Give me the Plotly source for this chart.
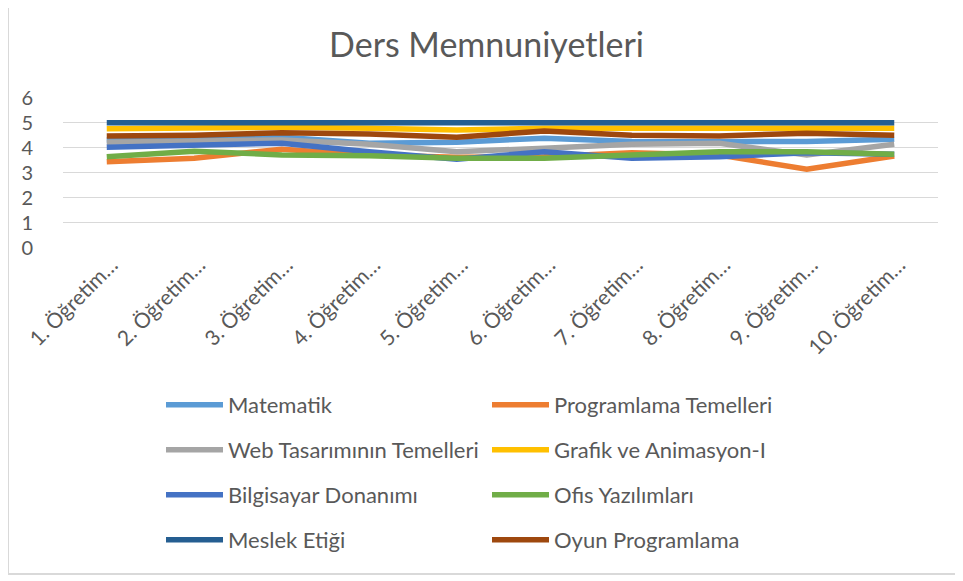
import plotly.graph_objects as go

W, H = 963, 581
OX, OY = 8, 8  # page offset of the figure (body margin)

categories = [f"{i}. Öğretim…" for i in range(1, 11)]

series_names = [
    "Matematik", "Programlama Temelleri", "Web Tasarımının Temelleri",
    "Grafik ve Animasyon-I", "Bilgisayar Donanımı", "Ofis Yazılımları",
    "Meslek Etiği", "Oyun Programlama",
]

matematik = [4.31, 4.34, 4.42, 4.18, 4.22, 4.38, 4.25, 4.24, 4.25, 4.34]
programlama = [3.44, 3.58, 3.94, 3.71, 3.62, 3.64, 3.80, 3.71, 3.14, 3.67]
web = [4.22, 4.26, 4.31, 4.14, 3.84, 3.98, 4.14, 4.18, 3.71, 4.14]
grafik = [4.76, 4.78, 4.82, 4.78, 4.71, 4.78, 4.78, 4.76, 4.78, 4.78]
donanim = [4.02, 4.11, 4.18, 3.84, 3.54, 3.84, 3.58, 3.64, 3.80, 3.74]
ofis = [3.64, 3.86, 3.71, 3.68, 3.58, 3.58, 3.71, 3.84, 3.84, 3.74]
meslek = [5.0, 5.0, 5.0, 5.0, 5.0, 5.0, 5.0, 5.0, 5.0, 5.0]
oyun = [4.47, 4.50, 4.60, 4.55, 4.42, 4.67, 4.50, 4.47, 4.58, 4.50]

values = [matematik, programlama, web, grafik, donanim, ofis, meslek, oyun]
colors = ["#5B9BD5", "#ED7D31", "#A5A5A5", "#FFC000",
          "#4472C4", "#70AD47", "#255E91", "#9E480E"]

y_ticks = [0, 1, 2, 3, 4, 5, 6]

FONT = "Lato"
TXT = "#595959"


def px(x):
    return (x - OX) / W


def py(y):
    return 1 - (y - OY) / H


fig = go.Figure()
legend_layouts = {}
col_x = [167, 493]
row_y = [405, 450, 495, 540]
for i, (name, vals, col) in enumerate(zip(series_names, values, colors)):
    lg = "legend" if i == 0 else f"legend{i + 1}"
    fig.add_trace(go.Scatter(
        x=categories, y=vals, name=name, mode="lines",
        line=dict(color=col, width=5.5),
        legend=lg,
    ))
    cx = col_x[i % 2]
    ry = row_y[i // 2]
    legend_layouts[lg] = dict(
        x=px(cx - 6), y=py(ry), xanchor="left", yanchor="middle",
        xref="container", yref="container",
        font=dict(family=FONT, size=22, color=TXT),
        bgcolor="rgba(0,0,0,0)", borderwidth=0, itemwidth=57,
    )

fig.update_layout(
    template="none",
    width=W, height=H,
    margin=dict(l=0, r=0, t=0, b=0, autoexpand=False),
    paper_bgcolor="white", plot_bgcolor="white",
    font=dict(family=FONT, color=TXT),
    title=dict(
        text="Ders Memnuniyetleri", x=px(486.5), y=py(45),
        xref="container", yref="container", xanchor="center", yanchor="middle",
        font=dict(family=FONT, size=34, color=TXT),
    ),
    xaxis=dict(
        domain=[px(63), px(938)], type="category", automargin=False,
        range=[-0.5, 9.5],
        showgrid=False, showline=False, zeroline=False, ticks="",
        tickangle=-45, ticklabelshift=5,
        tickfont=dict(family=FONT, size=21, color=TXT),
    ),
    yaxis=dict(
        domain=[py(247.7), py(97.7)], range=[0, 6], automargin=False,
        tickvals=y_ticks, showgrid=True, gridcolor="#D9D9D9", gridwidth=1.3,
        zeroline=False, showline=False, ticks="",
        ticklabelstandoff=29,
        tickfont=dict(family=FONT, size=20, color=TXT),
    ),
    showlegend=True,
    **legend_layouts,
    shapes=[
        dict(type="line", xref="paper", yref="paper",
             x0=0, x1=0, y0=py(574), y1=1,
             line=dict(color="#D9D9D9", width=2), layer="below"),
        dict(type="line", xref="paper", yref="paper",
             x0=0, x1=1, y0=py(574), y1=py(574),
             line=dict(color="#D9D9D9", width=2), layer="below"),
    ],
)

fig.write_html("out.html")
